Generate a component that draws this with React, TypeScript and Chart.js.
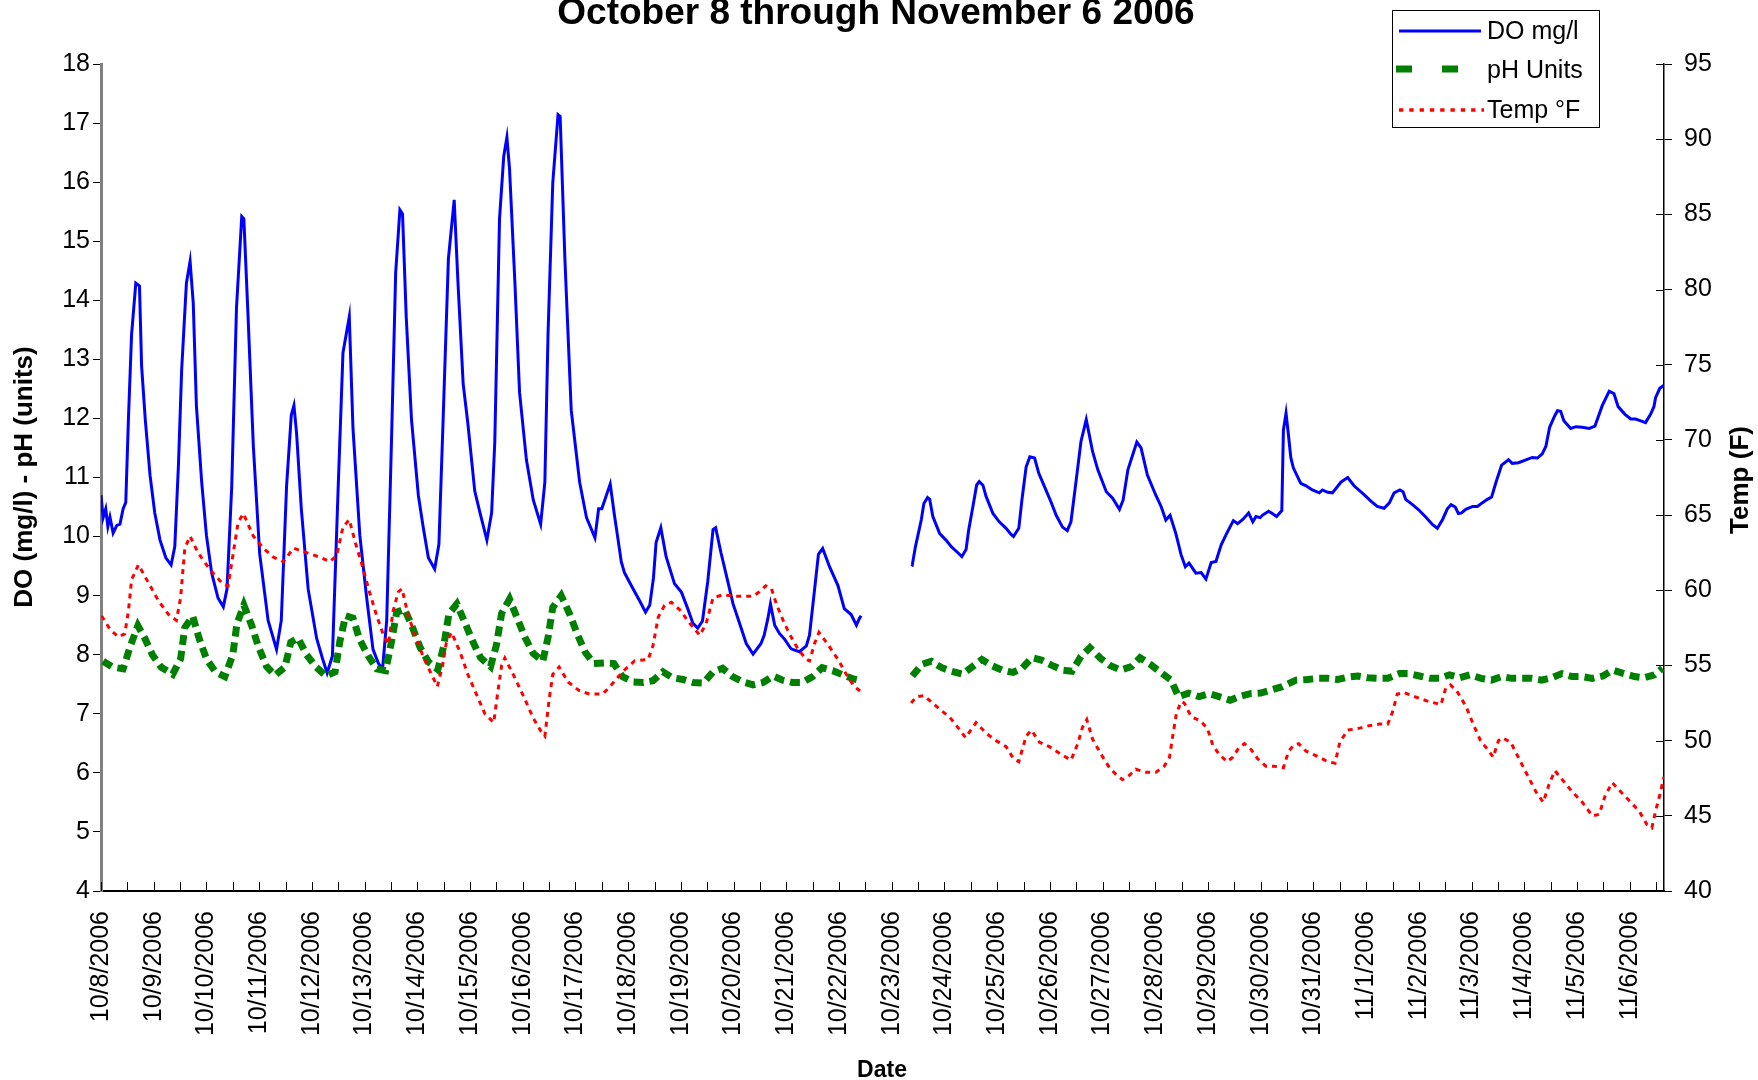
import { useEffect, useRef } from 'react';
import { Chart, registerables } from 'chart.js';

Chart.register(...registerables);

const FONT = '"Liberation Sans", Arial, Helvetica, sans-serif';

const DATE_LABELS = [
  '10/8/2006', '10/9/2006', '10/10/2006', '10/11/2006', '10/12/2006', '10/13/2006',
  '10/14/2006', '10/15/2006', '10/16/2006', '10/17/2006', '10/18/2006', '10/19/2006',
  '10/20/2006', '10/21/2006', '10/22/2006', '10/23/2006', '10/24/2006', '10/25/2006',
  '10/26/2006', '10/27/2006', '10/28/2006', '10/29/2006', '10/30/2006', '10/31/2006',
  '11/1/2006', '11/2/2006', '11/3/2006', '11/4/2006', '11/5/2006', '11/6/2006',
];

const LEFT_TICKS = [4, 5, 6, 7, 8, 9, 10, 11, 12, 13, 14, 15, 16, 17, 18];
const RIGHT_TICKS = [40, 45, 50, 55, 60, 65, 70, 75, 80, 85, 90, 95];
const X_MAX_DAYS = 29.65;

// Days since 10/8/2006 00:00
const DO_DAYS = [
  0.00, 0.04, 0.09, 0.13, 0.17, 0.23, 0.30, 0.36, 0.42, 0.47, 0.52, 0.58, 0.66, 0.73, 0.77, 0.84, 0.93,
  1.02, 1.12, 1.23, 1.33, 1.40, 1.47, 1.53, 1.62, 1.69, 1.75, 1.81, 1.91, 2.00, 2.10, 2.22, 2.32, 2.39,
  2.48, 2.57, 2.67, 2.71, 2.79, 2.89, 3.01, 3.17, 3.33, 3.42, 3.52, 3.61, 3.66, 3.71, 3.80, 3.93, 4.09,
  4.20, 4.29, 4.39, 4.50, 4.59, 4.71, 4.78, 4.91, 5.04, 5.16, 5.26, 5.34, 5.42, 5.51, 5.59, 5.67, 5.72,
  5.79, 5.89, 6.02, 6.11, 6.21, 6.33, 6.41, 6.49, 6.59, 6.70, 6.77, 6.87, 6.96, 7.09, 7.19, 7.32, 7.41,
  7.47, 7.56, 7.64, 7.70, 7.75, 7.85, 7.94, 8.07, 8.20, 8.34, 8.42, 8.48, 8.57, 8.67, 8.71, 8.80, 8.92,
  9.08, 9.21, 9.37, 9.44, 9.50, 9.66, 9.74, 9.81, 9.87, 9.93, 10.09, 10.22, 10.33, 10.41, 10.48, 10.53,
  10.62, 10.72, 10.88, 11.01, 11.13, 11.23, 11.32, 11.41, 11.51, 11.61, 11.66, 11.76, 11.89, 11.99,
  12.11, 12.24, 12.37, 12.52, 12.58, 12.65, 12.70, 12.78, 12.87, 12.97, 13.09, 13.25, 13.38, 13.44,
  13.51, 13.61, 13.69, 13.82, 13.98, 14.10, 14.23, 14.33, 14.39, 14.42,
  14.90,
  15.37, 15.39, 15.45, 15.56, 15.61, 15.68, 15.72, 15.78, 15.91, 16.03, 16.13, 16.25, 16.33, 16.41,
  16.46, 16.54, 16.61, 16.66, 16.73, 16.79, 16.92, 17.04, 17.17, 17.26, 17.31, 17.41, 17.47, 17.55,
  17.62, 17.71, 17.79, 17.90, 18.02, 18.12, 18.24, 18.33, 18.40, 18.50, 18.59, 18.69, 18.81, 18.91,
  19.07, 19.19, 19.32, 19.39, 19.48, 19.57, 19.65, 19.73, 19.85, 20.01, 20.11, 20.20, 20.28, 20.39,
  20.49, 20.57, 20.64, 20.77, 20.87, 20.96, 21.06, 21.15, 21.25, 21.34, 21.48, 21.56, 21.66, 21.77,
  21.85, 21.91, 21.99, 22.03, 22.15, 22.22, 22.30, 22.40, 22.43, 22.48, 22.52, 22.57, 22.62, 22.76,
  22.86, 22.98, 23.11, 23.17, 23.27, 23.36, 23.52, 23.65, 23.77, 23.96, 24.09, 24.21, 24.34, 24.44,
  24.53, 24.64, 24.70, 24.75, 24.88, 25.00, 25.13, 25.26, 25.35, 25.45, 25.54, 25.61, 25.69, 25.75,
  25.81, 25.89, 26.02, 26.11, 26.20, 26.30, 26.38, 26.46, 26.57, 26.70, 26.77, 26.89, 27.03, 27.15,
  27.25, 27.34, 27.41, 27.48, 27.58, 27.63, 27.69, 27.75, 27.88, 27.98, 28.10, 28.23, 28.34, 28.48,
  28.61, 28.70, 28.78, 28.91, 29.02, 29.11, 29.21, 29.30, 29.40, 29.46, 29.49, 29.57, 29.65,
];
const DO_VALUES = [
  10.70, 10.32, 10.47, 10.17, 10.33, 10.06, 10.19, 10.21, 10.47, 10.58, 11.98, 13.42, 14.29, 14.24, 12.89, 11.98, 11.04,
  10.40, 9.94, 9.64, 9.52, 9.83, 11.23, 12.82, 14.29, 14.66, 13.95, 12.21, 10.92, 10.02, 9.38, 8.96, 8.81, 9.11,
  10.85, 13.87, 15.42, 15.38, 13.72, 11.53, 9.71, 8.58, 8.09, 8.58, 10.85, 12.06, 12.22, 11.75, 10.47, 9.11, 8.28,
  7.94, 7.69, 7.98, 10.85, 13.11, 13.72, 11.83, 10.02, 8.96, 8.09, 7.86, 7.75, 8.58, 11.60, 14.47, 15.53, 15.46,
  13.72, 11.98, 10.70, 10.17, 9.64, 9.45, 9.87, 11.98, 14.70, 15.70, 14.33, 12.59, 11.91, 10.77, 10.40, 9.94, 10.40,
  11.60, 15.38, 16.44, 16.76, 16.22, 14.33, 12.44, 11.30, 10.62, 10.21, 10.92, 13.42, 15.99, 17.14, 17.11, 14.70, 12.14,
  10.92, 10.32, 9.98, 10.47, 10.47, 10.89, 10.36, 9.94, 9.57, 9.39, 9.12, 8.91, 8.72, 8.84, 9.30, 9.90,
  10.15, 9.66, 9.20, 9.06, 8.78, 8.53, 8.45, 8.57, 9.24, 10.12, 10.15, 9.73, 9.24, 8.86,
  8.54, 8.19, 8.01, 8.19, 8.33, 8.61, 8.86, 8.50, 8.36, 8.26, 8.10, 8.05, 8.15, 8.33,
  8.89, 9.70, 9.80, 9.49, 9.17, 8.78, 8.68, 8.50, 8.62, 8.66,
  null,
  9.53, 9.52, 9.83, 10.28, 10.56, 10.66, 10.63, 10.34, 10.05, 9.94, 9.83, 9.73, 9.66, 9.78,
  10.11, 10.51, 10.87, 10.93, 10.87, 10.68, 10.39, 10.25, 10.14, 10.04, 10.00, 10.14, 10.62, 11.18,
  11.35, 11.33, 11.07, 10.84, 10.59, 10.36, 10.16, 10.10, 10.25, 10.96, 11.61, 11.98, 11.44, 11.13,
  10.76, 10.65, 10.46, 10.62, 11.13, 11.38, 11.60, 11.50, 11.04, 10.70, 10.51, 10.28, 10.36, 10.05,
  9.69, 9.49, 9.55, 9.38, 9.39, 9.28, 9.56, 9.58, 9.86, 10.03, 10.27, 10.22, 10.29, 10.40,
  10.25, 10.34, 10.32, 10.36, 10.43, 10.39, 10.34, 10.44, 11.80, 12.09, 11.77, 11.34, 11.16, 10.90,
  10.86, 10.79, 10.74, 10.79, 10.75, 10.74, 10.92, 11.00, 10.86, 10.71, 10.60, 10.51, 10.48, 10.57,
  10.74, 10.79, 10.76, 10.63, 10.54, 10.45, 10.33, 10.20, 10.14, 10.29, 10.47, 10.54, 10.50, 10.39,
  10.40, 10.46, 10.51, 10.51, 10.57, 10.63, 10.67, 10.91, 11.21, 11.30, 11.24, 11.25, 11.30, 11.34,
  11.33, 11.40, 11.53, 11.85, 12.05, 12.13, 12.12, 11.96, 11.83, 11.86, 11.85, 11.83, 11.87, 12.22,
  12.46, 12.42, 12.20, 12.07, 11.99, 11.99, 11.96, 11.93, 12.08, 12.20, 12.35, 12.51, 12.56,
];

const PH_DAYS = [
  0.04, 0.22, 0.42, 0.55, 0.70, 0.83, 0.98, 1.14, 1.36, 1.51, 1.59, 1.74, 1.86, 2.00, 2.17, 2.35, 2.50,
  2.58, 2.71, 2.86, 2.98, 3.14, 3.30, 3.49, 3.60, 3.74, 3.90, 4.08, 4.27, 4.44, 4.53, 4.64, 4.78, 4.91,
  5.07, 5.23, 5.40, 5.51, 5.61, 5.76, 5.91, 6.05, 6.21, 6.39, 6.50, 6.60, 6.75, 6.90, 7.06, 7.20, 7.39,
  7.50, 7.60, 7.75, 7.89, 8.04, 8.20, 8.38, 8.48, 8.57, 8.73, 8.89, 9.03, 9.18, 9.35, 9.54, 9.73, 9.89,
  10.09, 10.29, 10.47, 10.66, 10.84, 11.04, 11.23, 11.43, 11.61, 11.79, 11.98, 12.18, 12.37, 12.56,
  12.75, 12.93, 13.12, 13.31, 13.50, 13.68, 13.88, 14.07, 14.27, 14.38,
  14.90,
  15.39, 15.58, 15.75, 15.95, 16.13, 16.34, 16.52, 16.71, 16.89, 17.09, 17.30, 17.47, 17.66, 17.84,
  18.04, 18.24, 18.42, 18.59, 18.76, 18.96, 19.14, 19.34, 19.55, 19.71, 19.90, 20.09, 20.30, 20.44,
  20.63, 20.83, 21.02, 21.21, 21.42, 21.59, 21.80, 22.00, 22.19, 22.41, 22.67, 22.89, 23.08, 23.27,
  23.46, 23.65, 23.84, 24.03, 24.22, 24.41, 24.63, 24.82, 25.01, 25.21, 25.39, 25.58, 25.78, 25.97,
  26.18, 26.38, 26.57, 26.76, 26.94, 27.13, 27.33, 27.52, 27.71, 27.91, 28.10, 28.29, 28.49, 28.68,
  28.89, 29.09, 29.28, 29.47, 29.62,
];
const PH_VALUES = [
  7.89, 7.79, 7.76, 8.13, 8.49, 8.28, 7.99, 7.79, 7.67, 7.93, 8.46, 8.65, 8.28, 7.93, 7.71, 7.63, 8.00,
  8.53, 8.84, 8.49, 8.15, 7.80, 7.65, 7.79, 8.21, 8.28, 8.00, 7.79, 7.64, 7.71, 8.22, 8.66, 8.62, 8.25,
  7.98, 7.76, 7.73, 8.22, 8.72, 8.77, 8.46, 8.13, 7.88, 7.75, 8.14, 8.69, 8.86, 8.55, 8.21, 7.95, 7.80,
  8.16, 8.70, 8.94, 8.63, 8.30, 8.02, 7.89, 8.29, 8.80, 9.00, 8.69, 8.36, 8.05, 7.85, 7.86, 7.85, 7.63,
  7.54, 7.53, 7.56, 7.71, 7.61, 7.58, 7.53, 7.52, 7.71, 7.77, 7.63, 7.54, 7.49, 7.53,
  7.64, 7.57, 7.53, 7.53, 7.63, 7.78, 7.73, 7.66, 7.59, 7.57,
  null,
  7.64, 7.84, 7.89, 7.78, 7.72, 7.67, 7.79, 7.92, 7.82, 7.74, 7.70, 7.77, 7.95, 7.91,
  7.82, 7.74, 7.72, 7.97, 8.12, 7.94, 7.82, 7.74, 7.80, 7.95, 7.84, 7.71, 7.57, 7.29,
  7.35, 7.29, 7.34, 7.29, 7.23, 7.29, 7.34, 7.35, 7.40, 7.46, 7.57, 7.58, 7.60, 7.60,
  7.58, 7.62, 7.64, 7.61, 7.60, 7.60, 7.68, 7.68, 7.64, 7.60, 7.60, 7.66, 7.61, 7.66,
  7.60, 7.57, 7.63, 7.60, 7.60, 7.60, 7.57, 7.61, 7.68, 7.63, 7.63, 7.60, 7.64, 7.74,
  7.68, 7.63, 7.61, 7.66, 7.77,
];

const TEMP_DAYS = [
  0.01, 0.17, 0.33, 0.45, 0.52, 0.58, 0.71, 0.90, 1.09, 1.28, 1.43, 1.51, 1.59, 1.69, 1.84, 2.00, 2.16,
  2.32, 2.41, 2.51, 2.60, 2.70, 2.89, 3.08, 3.27, 3.46, 3.65, 3.90, 4.15, 4.34, 4.47, 4.59, 4.71, 4.83,
  4.96, 5.10, 5.23, 5.35, 5.45, 5.54, 5.64, 5.71, 5.83, 5.95, 6.11, 6.27, 6.38, 6.48, 6.55, 6.65, 6.81,
  6.96, 7.12, 7.28, 7.45, 7.53, 7.60, 7.66, 7.82, 8.01, 8.20, 8.35, 8.42, 8.50, 8.57, 8.69, 8.86, 9.08,
  9.27, 9.52, 9.68, 9.90, 10.12, 10.38, 10.47, 10.57, 10.69, 10.82, 10.98, 11.17, 11.36, 11.48, 11.61,
  11.80, 12.05, 12.37, 12.49, 12.61, 12.72, 12.81, 12.94, 13.06, 13.22, 13.38, 13.44, 13.54, 13.62,
  13.79, 13.98, 14.14, 14.29, 14.40,
  14.90,
  15.37, 15.46, 15.61, 15.81, 15.94, 16.09, 16.25, 16.40, 16.60, 16.79, 16.98, 17.17, 17.31, 17.41,
  17.55, 17.65, 17.80, 17.99, 18.21, 18.40, 18.53, 18.62, 18.70, 18.81, 18.97, 19.13, 19.27, 19.38,
  19.51, 19.63, 19.82, 20.01, 20.17, 20.27, 20.33, 20.40, 20.49, 20.55, 20.68, 20.86, 20.99, 21.09,
  21.21, 21.36, 21.47, 21.58, 21.69, 21.82, 21.94, 22.10, 22.26, 22.43, 22.53, 22.63, 22.72, 22.86,
  23.11, 23.27, 23.41, 23.50, 23.65, 23.84, 24.06, 24.25, 24.41, 24.50, 24.59, 24.72, 24.94, 25.19,
  25.42, 25.51, 25.60, 25.72, 25.89, 26.03, 26.17, 26.33, 26.41, 26.51, 26.58, 26.74, 26.90, 27.06,
  27.22, 27.36, 27.47, 27.58, 27.72, 27.91, 28.10, 28.29, 28.42, 28.54, 28.67, 28.83, 29.02, 29.18,
  29.33, 29.42, 29.49, 29.57, 29.65,
];
const TEMP_VALUES = [
  58.3, 57.4, 56.9, 57.1, 58.6, 60.7, 61.7, 60.5, 59.3, 58.4, 58.0, 59.5, 62.8, 63.6, 62.5, 61.7, 61.0,
  60.4, 60.3, 62.5, 64.5, 65.1, 63.6, 62.8, 62.2, 61.9, 62.8, 62.5, 62.2, 61.9, 62.3, 64.2, 64.7, 63.1,
  61.6, 59.8, 58.3, 57.1, 56.4, 58.6, 59.9, 60.1, 58.3, 57.1, 55.6, 54.4, 53.6, 55.0, 56.5, 57.2, 55.9,
  54.4, 53.1, 51.8, 51.2, 53.3, 55.0, 55.5, 54.4, 53.0, 51.5, 50.6, 50.3, 52.7, 54.4, 54.9, 53.9, 53.3,
  53.1, 53.1, 53.7, 54.6, 55.3, 55.4, 56.3, 58.2, 59.0, 59.2, 58.7, 57.8, 57.0, 57.8, 59.5,
  59.7, 59.6, 59.6, 59.9, 60.3, 60.1, 59.1, 58.0, 57.1, 56.1, 55.4, 55.3, 56.5, 57.2,
  56.4, 55.4, 54.4, 53.6, 53.3,
  null,
  52.5, 52.9, 53.0, 52.4, 52.0, 51.6, 50.9, 50.2, 51.2, 50.5, 50.0, 49.6, 48.8, 48.6,
  50.3, 50.7, 49.9, 49.6, 49.1, 48.7, 49.8, 50.9, 51.4, 50.1, 49.1, 48.2, 47.7, 47.4,
  47.7, 48.1, 47.9, 47.9, 48.3, 48.9, 50.3, 51.8, 52.6, 52.5, 51.6, 51.3, 50.8, 49.7,
  49.1, 48.6, 48.9, 49.5, 49.8, 49.4, 48.8, 48.3, 48.3, 48.2, 49.3, 49.7, 49.8, 49.3,
  48.9, 48.6, 48.5, 49.9, 50.7, 50.8, 51.0, 51.1, 51.1, 51.9, 53.1, 53.2, 52.9, 52.6,
  52.4, 53.5, 53.7, 53.3, 52.3, 51.1, 50.0, 49.3, 48.9, 50.0, 50.2, 49.9, 48.8, 47.7,
  46.6, 45.9, 47.1, 48.0, 47.4, 46.6, 45.9, 45.0, 45.1, 46.4, 47.2, 46.6, 45.9, 45.3,
  44.4, 44.2, 45.3, 46.4, 47.6,
];

const toPoints = (xs: number[], ys: (number | null)[]) => xs.map((x, i) => ({ x, y: ys[i] }));

const decorPlugin = {
  id: 'decor',
  afterDraw(chart: any) {
    const { ctx, chartArea, scales } = chart;
    const xs = scales.x;
    const y2 = scales.y2;
    ctx.save();
    // inward x tick marks (every half day)
    ctx.strokeStyle = '#000';
    ctx.lineWidth = 1;
    ctx.setLineDash([]);
    for (let i = 0; i <= 59; i++) {
      const px = Math.round(xs.getPixelForValue(i / 2)) + 0.5;
      ctx.beginPath();
      ctx.moveTo(px, chartArea.bottom);
      ctx.lineTo(px, chartArea.bottom - 9);
      ctx.stroke();
    }
    // inward part of right-axis ticks
    RIGHT_TICKS.forEach((t) => {
      const py = Math.round(y2.getPixelForValue(t)) + 0.5;
      ctx.beginPath();
      ctx.moveTo(chartArea.right - 8, py);
      ctx.lineTo(chartArea.right, py);
      ctx.stroke();
    });

    ctx.fillStyle = '#000';
    // title (top part cropped as in the source image)
    ctx.font = `bold 37px ${FONT}`;
    ctx.textAlign = 'center';
    ctx.textBaseline = 'alphabetic';
    ctx.fillText('October 8 through November 6 2006', 876, 24);

    // axis titles
    ctx.font = `bold 26px ${FONT}`;
    ctx.textBaseline = 'middle';
    ctx.save();
    ctx.translate(25, 477);
    ctx.rotate(-Math.PI / 2);
    ctx.fillText('DO (mg/l) - pH (units)', 0, 0);
    ctx.restore();
    ctx.save();
    ctx.translate(1741, 480);
    ctx.rotate(-Math.PI / 2);
    ctx.fillText('Temp (F)', 0, 0);
    ctx.restore();
    ctx.font = `bold 23px ${FONT}`;
    ctx.fillText('Date', 882, 1071);

    // legend
    ctx.fillStyle = '#fff';
    ctx.fillRect(1392, 10, 208, 118);
    ctx.strokeStyle = '#000';
    ctx.lineWidth = 1;
    ctx.strokeRect(1392.5, 10.5, 207, 117);
    ctx.lineCap = 'butt';
    ctx.strokeStyle = '#0000FF';
    ctx.lineWidth = 3;
    ctx.beginPath();
    ctx.moveTo(1399, 31);
    ctx.lineTo(1481, 31);
    ctx.stroke();
    ctx.strokeStyle = '#008000';
    ctx.lineWidth = 7;
    ctx.setLineDash([16, 30]);
    ctx.beginPath();
    ctx.moveTo(1396, 69);
    ctx.lineTo(1481, 69);
    ctx.stroke();
    ctx.strokeStyle = '#FF0000';
    ctx.lineWidth = 3.5;
    ctx.setLineDash([4.3, 6]);
    ctx.beginPath();
    ctx.moveTo(1399, 110);
    ctx.lineTo(1484, 110);
    ctx.stroke();
    ctx.setLineDash([]);
    ctx.fillStyle = '#000';
    ctx.font = `25px ${FONT}`;
    ctx.textAlign = 'left';
    ctx.textBaseline = 'middle';
    ctx.fillText('DO mg/l', 1487, 32);
    ctx.fillText('pH Units', 1487, 71);
    ctx.fillText('Temp °F', 1487, 111);
    ctx.restore();
  },
};

export default function App() {
  const ref = useRef<HTMLCanvasElement>(null);
  useEffect(() => {
    const canvas = ref.current;
    if (!canvas) return;
    const chart = new Chart(canvas, {
      type: 'line',
      data: {
        datasets: [
          {
            label: 'DO mg/l',
            data: toPoints(DO_DAYS, DO_VALUES),
            yAxisID: 'y',
            borderColor: '#0000FF',
            borderWidth: 3,
            pointRadius: 0,
            tension: 0,
            spanGaps: false,
            order: 3,
          },
          {
            label: 'pH Units',
            data: toPoints(PH_DAYS, PH_VALUES),
            yAxisID: 'y',
            borderColor: '#008000',
            borderWidth: 7,
            borderDash: [10, 6],
            borderCapStyle: 'butt',
            pointRadius: 0,
            tension: 0,
            spanGaps: false,
            order: 2,
          },
          {
            label: 'Temp °F',
            data: toPoints(TEMP_DAYS, TEMP_VALUES),
            yAxisID: 'y2',
            borderColor: '#FF0000',
            borderWidth: 3,
            borderDash: [5, 5],
            borderCapStyle: 'butt',
            pointRadius: 0,
            tension: 0,
            spanGaps: false,
            order: 1,
          },
        ],
      },
      options: {
        responsive: false,
        animation: false,
        devicePixelRatio: 1,
        layout: { padding: { top: 64, left: 0, right: 0, bottom: 0 } },
        plugins: {
          legend: { display: false },
          title: { display: false },
          tooltip: { enabled: false },
        },
        scales: {
          x: {
            type: 'linear',
            position: 'bottom',
            min: 0,
            max: X_MAX_DAYS,
            grid: { display: false, drawTicks: false },
            border: { display: true, color: '#000', width: 2 },
            ticks: {
              stepSize: 0.5,
              autoSkip: false,
              includeBounds: false,
              minRotation: 90,
              maxRotation: 90,
              padding: 20,
              color: '#000',
              font: { family: FONT, size: 25 },
              callback: (v: any) => {
                const n = Number(v);
                return Number.isInteger(n) && n < DATE_LABELS.length ? DATE_LABELS[n] : '';
              },
            },
            afterFit: (s: any) => {
              s.height = 189;
            },
          },
          y: {
            type: 'linear',
            position: 'left',
            min: LEFT_TICKS[0],
            max: LEFT_TICKS[LEFT_TICKS.length - 1],
            grid: { drawOnChartArea: false, drawTicks: true, tickLength: 8, color: '#000', lineWidth: 1 },
            border: { display: true, color: '#808080', width: 3 },
            ticks: {
              stepSize: 1,
              padding: 3,
              color: '#000',
              font: { family: FONT, size: 25 },
            },
            afterFit: (s: any) => {
              s.width = 101;
            },
          },
          y2: {
            type: 'linear',
            position: 'right',
            min: RIGHT_TICKS[0],
            max: RIGHT_TICKS[RIGHT_TICKS.length - 1],
            grid: { drawOnChartArea: false, drawTicks: true, tickLength: 8, color: '#000', lineWidth: 1 },
            border: { display: true, color: '#000', width: 1.5 },
            ticks: {
              stepSize: 5,
              padding: 12,
              color: '#000',
              font: { family: FONT, size: 25 },
            },
            afterFit: (s: any) => {
              s.width = 94;
            },
          },
        },
      } as any,
      plugins: [decorPlugin],
    });
    return () => chart.destroy();
  }, []);

  return (
    <div style={{ position: 'absolute', left: 0, top: 0, width: 1758, height: 1080, background: '#fff' }}>
      <canvas ref={ref} width={1758} height={1080} style={{ display: 'block', width: 1758, height: 1080 }} />
    </div>
  );
}
